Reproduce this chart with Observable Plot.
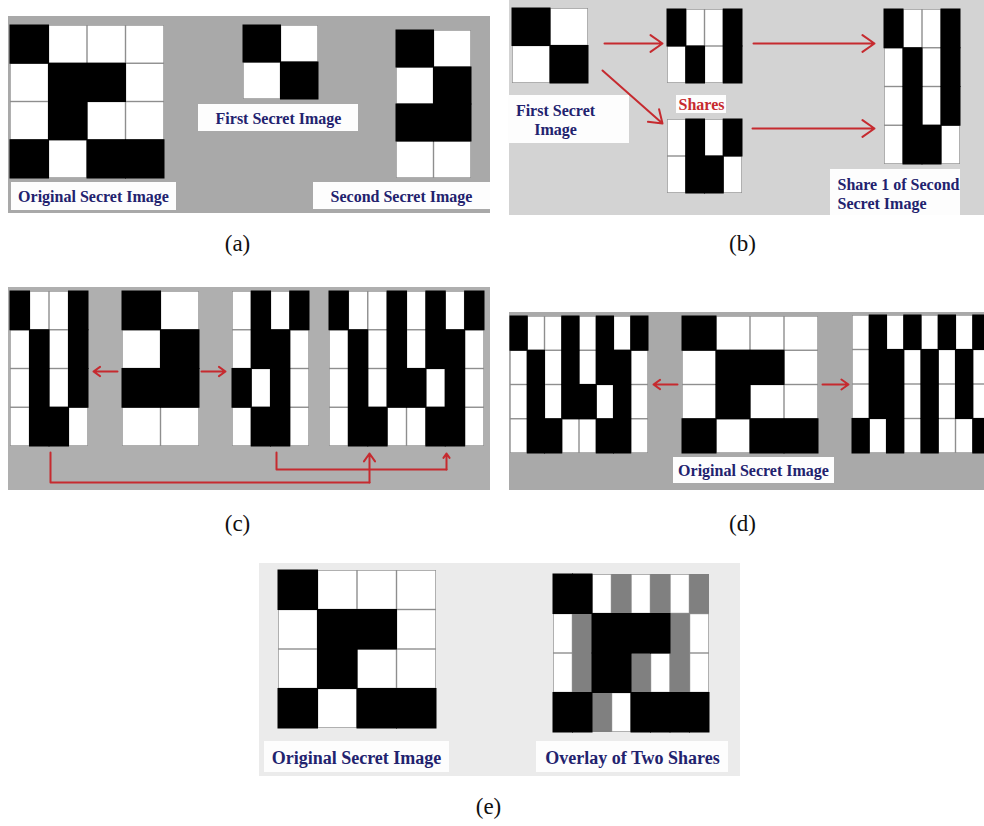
<!DOCTYPE html>
<html>
<head>
<meta charset="utf-8">
<script src="https://cdn.jsdelivr.net/npm/d3@7"></script>
<script src="https://cdn.jsdelivr.net/npm/@observablehq/plot@0.6"></script>
<style>
  html, body { margin: 0; padding: 0; background: #fff; }
  svg { display: block; }
</style>
</head>
<body>
<div id="chart"></div>
<script>
// ---------------- DATA (B = black, W = white, G = gray) ----------------
const originalSecret   = ["BWWW", "WBBW", "WBWW", "BWBB"];
const firstSecret      = ["BW", "WB"];
const secondSecret     = ["BW", "WB", "BB", "WW"];
const firstShareTop    = ["BWWB", "WBWB"];
const firstShareBottom = ["WBWB", "WBBW"];
const share1OfSecond   = ["BWWB", "WBWB", "WBWB", "WBBW"];
const share2OfSecond   = ["WBWB", "WBBW", "BWBW", "WBBW"];
const combinedShareA   = ["BWWBWBWB", "WBWBWBBW", "WBWBBWBW", "WBBWWBBW"];
const combinedShareB   = ["WBWBWBWB", "WBBWBWBW", "WBBWBWBW", "BWBWBWWB"];
const overlayShares    = ["BBWGWGWG", "WGBBBBGW", "WGBBGWGW", "BBGWBBBB"];

const captions   = ["(a)", "(b)", "(c)", "(d)", "(e)"];
const labelsA    = ["Original Secret Image", "First Secret Image", "Second Secret Image"];
const labelsB    = ["First Secret\nImage", "Shares", "Share 1 of Second\nSecret Image"];
const labelsD    = ["Original Secret Image"];
const labelsE    = ["Original Secret Image", "Overlay of Two Shares"];

// ---------------- LAYOUT ----------------
const W = 984, H = 826;
const COLORS = {B: "#000000", W: "#ffffff", G: "#808080"};
const NAVY = "#22226e", RED = "#c62a2f";

const panels = [
  {x1: 8,   x2: 490, y1: 16,  y2: 213, fill: "#a9a9a9"},
  {x1: 509, x2: 984, y1: 0,   y2: 215, fill: "#d3d3d3"},
  {x1: 8,   x2: 490, y1: 287, y2: 490, fill: "#afafaf"},
  {x1: 509, x2: 984, y1: 312, y2: 490, fill: "#a9a9a9"},
  {x1: 259, x2: 740, y1: 563, y2: 776, fill: "#ebebeb"}
];

const grids = [
  {m: originalSecret,   x1: 10,  x2: 164, y1: 25,  y2: 178},
  {m: firstSecret,      x1: 243, x2: 318, y1: 25,  y2: 99},
  {m: secondSecret,     x1: 396, x2: 471, y1: 30,  y2: 178},
  {m: firstSecret,      x1: 512, x2: 588, y1: 8,   y2: 83},
  {m: firstShareTop,    x1: 667, x2: 742, y1: 9,   y2: 83},
  {m: firstShareBottom, x1: 667, x2: 742, y1: 119, y2: 193},
  {m: share1OfSecond,   x1: 884, x2: 960, y1: 9,   y2: 164},
  {m: share1OfSecond,   x1: 10,  x2: 88,  y1: 291, y2: 446},
  {m: secondSecret,     x1: 122, x2: 199, y1: 291, y2: 446},
  {m: share2OfSecond,   x1: 232, x2: 309, y1: 291, y2: 446},
  {m: combinedShareA,   x1: 329, x2: 484, y1: 291, y2: 446},
  {m: combinedShareA,   x1: 510, x2: 648, y1: 316, y2: 453},
  {m: originalSecret,   x1: 682, x2: 818, y1: 316, y2: 453},
  {m: combinedShareB,   x1: 852, x2: 990, y1: 315, y2: 453},
  {m: originalSecret,   x1: 278, x2: 436, y1: 570, y2: 728},
  {m: overlayShares,    x1: 553, x2: 709, y1: 574, y2: 732}
];

function cellsOf(g) {
  const rows = g.m.length, cols = g.m[0].length;
  const cw = (g.x2 - g.x1) / cols, ch = (g.y2 - g.y1) / rows;
  const out = [];
  g.m.forEach((row, r) => {
    [...row].forEach((v, c) => {
      out.push({v, x1: g.x1 + c * cw, x2: g.x1 + (c + 1) * cw, y1: g.y1 + r * ch, y2: g.y1 + (r + 1) * ch});
    });
  });
  return out;
}
const allCells = grids.flatMap(cellsOf);
const whiteCells = allCells.filter(d => d.v === "W");
const blackCells = allCells.filter(d => d.v === "B");
const grayCells = allCells.filter(d => d.v === "G");

// label boxes
const boxes = [
  {x1: 11,  x2: 176, y1: 182, y2: 210, text: labelsA[0], tx: 93,  ty: 196, size: 16, color: NAVY, anchor: "middle"},
  {x1: 198, x2: 358, y1: 104, y2: 131, text: labelsA[1], tx: 278, ty: 118, size: 16, color: NAVY, anchor: "middle"},
  {x1: 313, x2: 490, y1: 182, y2: 209, text: labelsA[2], tx: 401, ty: 196, size: 16, color: NAVY, anchor: "middle"},
  {x1: 508, x2: 629, y1: 95,  y2: 143, text: labelsB[0], tx: 555, ty: 119, size: 16, color: NAVY, anchor: "middle"},
  {x1: 676, x2: 726, y1: 95,  y2: 113, text: labelsB[1], tx: 701, ty: 104, size: 16, color: RED,  anchor: "middle"},
  {x1: 830, x2: 960, y1: 169, y2: 215, text: labelsB[2], tx: 837, ty: 193, size: 16, color: NAVY, anchor: "start"},
  {x1: 673, x2: 834, y1: 457, y2: 483, text: labelsD[0], tx: 753, ty: 470, size: 16, color: NAVY, anchor: "middle"},
  {x1: 264, x2: 449, y1: 741, y2: 772, text: labelsE[0], tx: 356, ty: 757, size: 18, color: NAVY, anchor: "middle"},
  {x1: 536, x2: 728, y1: 741, y2: 772, text: labelsE[1], tx: 632, ty: 757, size: 18, color: NAVY, anchor: "middle"}
];

const captionPos = [[237, 243], [742, 243], [237, 523], [742, 523], [488, 806]];
const captionData = captions.map((t, i) => ({t, x: captionPos[i][0], y: captionPos[i][1]}));

const arrows = [
  {x1: 604, y1: 43,  x2: 662, y2: 43},
  {x1: 753, y1: 43,  x2: 874, y2: 43},
  {x1: 602, y1: 70,  x2: 662, y2: 123},
  {x1: 752, y1: 128, x2: 874, y2: 128},
  {x1: 117, y1: 371, x2: 93,  y2: 371},
  {x1: 201, y1: 371, x2: 225, y2: 371},
  {x1: 369, y1: 482, x2: 369, y2: 453},
  {x1: 446, y1: 469, x2: 446, y2: 453},
  {x1: 677, y1: 384, x2: 653, y2: 384},
  {x1: 822, y1: 384, x2: 848, y2: 384}
];
const connectors = [
  {id: 1, x: 50,  y: 452}, {id: 1, x: 50,  y: 482}, {id: 1, x: 369, y: 482},
  {id: 2, x: 276, y: 452}, {id: 2, x: 276, y: 469}, {id: 2, x: 446, y: 469}
];

const chart = Plot.plot({
  width: W, height: H, margin: 0,
  x: {domain: [0, W], range: [0, W], axis: null},
  y: {domain: [0, H], range: [0, H], axis: null},
  color: {type: "identity"},
  style: {background: "#fff", overflow: "hidden"},
  marks: [
    Plot.rect(panels, {x1: "x1", x2: "x2", y1: "y1", y2: "y2", fill: "fill"}),
    Plot.rect(grids, {x1: "x1", x2: "x2", y1: "y1", y2: "y2", fill: "#8e8e8e"}),
    Plot.rect(whiteCells, {x1: "x1", x2: "x2", y1: "y1", y2: "y2", fill: COLORS.W, inset: 0.7}),
    Plot.rect(grayCells, {x1: "x1", x2: "x2", y1: "y1", y2: "y2", fill: COLORS.G, inset: 0}),
    Plot.rect(blackCells, {x1: "x1", x2: "x2", y1: "y1", y2: "y2", fill: COLORS.B, inset: -0.5}),
    Plot.rect(boxes, {x1: "x1", x2: "x2", y1: "y1", y2: "y2", fill: "#fdfdfd"}),
    ...boxes.map(b => Plot.text([b], {
      x: "tx", y: "ty", text: "text", fill: b.color, fontSize: b.size,
      fontFamily: "Liberation Serif, Times New Roman, serif", fontWeight: "bold",
      textAnchor: b.anchor, lineHeight: 1.15
    })),
    Plot.line(connectors, {x: "x", y: "y", z: "id", stroke: RED, strokeWidth: 2}),
    Plot.arrow(arrows, {x1: "x1", y1: "y1", x2: "x2", y2: "y2", stroke: RED, strokeWidth: 2, headLength: 11, headAngle: 70}),
    Plot.text(captionData, {x: "x", y: "y", text: "t", fontSize: 23, fill: "#111",
      fontFamily: "Liberation Serif, Times New Roman, serif"})
  ]
});
document.getElementById("chart").appendChild(chart);
</script>
</body>
</html>
